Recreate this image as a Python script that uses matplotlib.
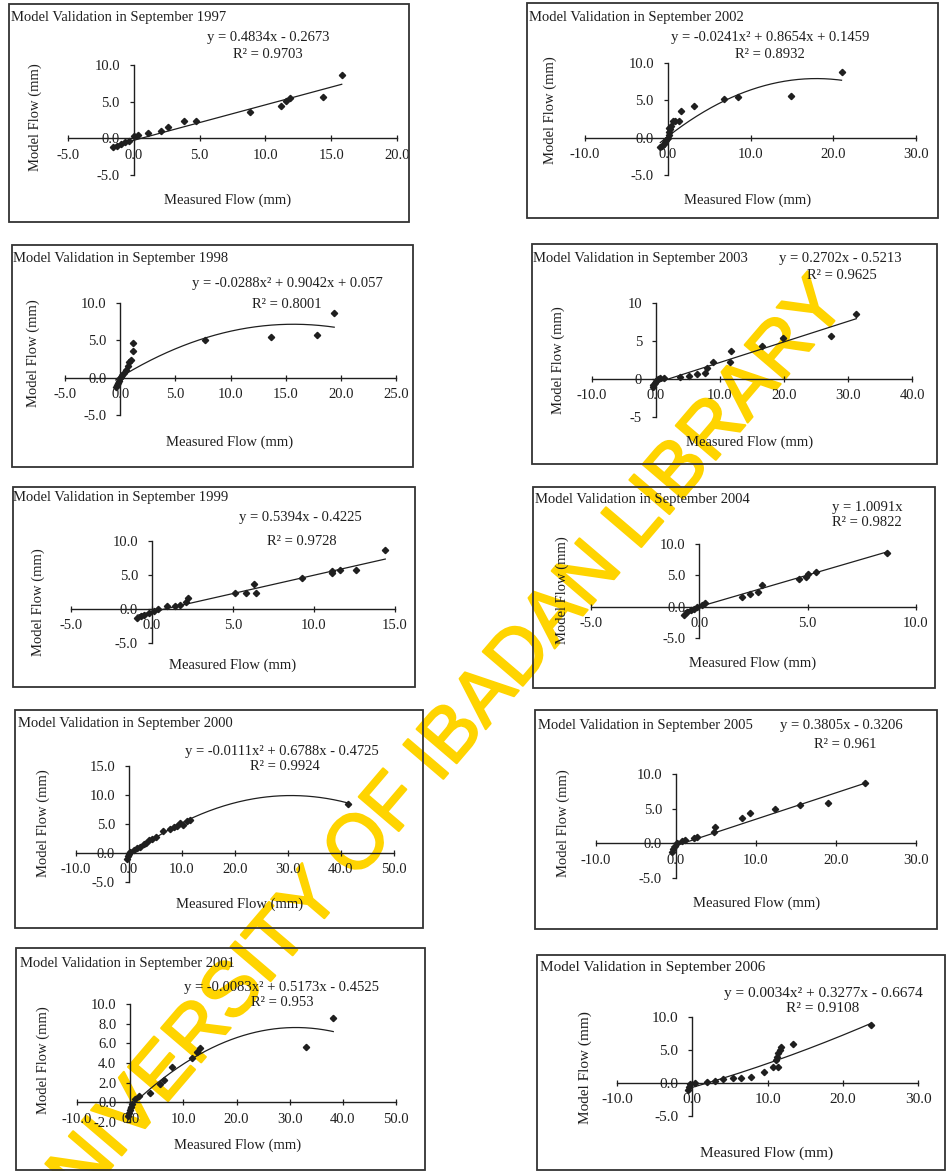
import numpy as np
import matplotlib
matplotlib.use("Agg")
import matplotlib.pyplot as plt
import matplotlib.patheffects as pe
from matplotlib.patches import Rectangle
from matplotlib.ticker import FormatStrFormatter, MultipleLocator

# ---------------- data ----------------
x_1997 = [15.8, 14.4, 11.9, 11.6, 11.2, 8.8, 4.7, 3.8, 2.6, 2.1, 1.1, 0.3, 0.05, -0.4, -0.7, -1.0, -1.3, -1.6]
y_1997 = [8.6, 5.6, 5.45, 5.1, 4.4, 3.6, 2.4, 2.3, 1.6, 1.0, 0.7, 0.45, 0.3, -0.3, -0.5, -0.8, -1.0, -1.2]
fit_1997 = [0.4834, -0.2673]

x_1998 = [19.4, 17.8, 13.7, 7.7, 1.2, 1.2, 1.0, 0.8, 0.7, 0.5, 0.35, 0.2, 0.1, 0.0, -0.1, -0.2, -0.3, -0.4]
y_1998 = [8.6, 5.7, 5.5, 5.1, 4.6, 3.6, 2.4, 2.1, 1.6, 1.0, 0.6, 0.3, 0.1, -0.1, -0.4, -0.7, -1.0, -1.3]
fit_1998 = [-0.0288, 0.9042, 0.057]

x_1999 = [14.4, 12.6, 11.6, 11.1, 11.1, 9.25, 6.4, 6.3, 5.8, 5.1, 2.2, 2.1, 1.75, 1.4, 0.9, 0.4, 0.1, -0.2, -0.5, -0.7, -0.9]
y_1999 = [8.7, 5.7, 5.8, 5.35, 5.6, 4.5, 2.3, 3.7, 2.3, 2.3, 1.6, 1.1, 0.6, 0.5, 0.4, 0.0, -0.3, -0.6, -0.85, -1.1, -1.3]
fit_1999 = [0.5394, -0.4225]

x_2000 = [41.4, 11.5, 10.9, 10.2, 9.7, 9.0, 8.4, 7.8, 6.4, 5.0, 4.3, 3.7, 3.2, 2.8, 2.1, 1.5, 0.9, 0.25, -0.06, -0.25, -0.4]
y_2000 = [8.4, 5.65, 5.5, 4.9, 5.1, 4.6, 4.5, 4.2, 3.8, 2.8, 2.5, 2.3, 1.8, 1.5, 1.0, 0.8, 0.5, 0.2, -0.25, -0.6, -1.0]
fit_2000 = [-0.0111, 0.6788, -0.4725]

x_2001 = [38.2, 33.1, 13.2, 12.5, 11.6, 7.8, 6.3, 5.7, 3.8, 1.6, 0.95, 0.35, 0.1, -0.1, -0.3, -0.35]
y_2001 = [8.55, 5.66, 5.5, 5.15, 4.5, 3.6, 2.3, 1.85, 0.9, 0.6, 0.3, -0.15, -0.45, -0.8, -1.1, -1.4]
fit_2001 = [-0.0083, 0.5173, -0.4525]

x_2002 = [21.0, 14.9, 8.5, 6.8, 3.2, 1.6, 1.4, 0.9, 0.6, 0.35, 0.3, 0.2, 0.15, 0.1, 0.0, -0.2, -0.3, -0.5, -0.7, -0.9]
y_2002 = [8.75, 5.55, 5.45, 5.2, 4.3, 3.55, 2.2, 2.2, 2.2, 1.5, 1.2, 0.8, 1.3, 0.4, 0.0, -0.3, -0.6, -0.9, -1.1, -1.3]
fit_2002 = [-0.0241, 0.8654, 0.1459]

x_2003 = [31.3, 27.4, 19.9, 16.6, 11.7, 11.6, 8.9, 7.9, 7.6, 6.4, 5.1, 3.8, 1.2, 0.65, 0.3, 0.0, -0.2, -0.4, -0.5]
y_2003 = [8.6, 5.6, 5.4, 4.4, 3.7, 2.3, 2.2, 1.5, 0.75, 0.65, 0.45, 0.3, 0.15, 0.1, 0.0, -0.2, -0.5, -1.1, -0.8]
fit_2003 = [0.2702, -0.5213]

x_2004 = [8.65, 5.4, 5.0, 4.9, 4.6, 2.9, 2.7, 2.35, 1.95, 0.28, 0.12, -0.1, -0.25, -0.4, -0.57, -0.72]
y_2004 = [8.56, 5.6, 5.2, 4.8, 4.4, 3.5, 2.3, 2.0, 1.5, 0.6, 0.3, -0.1, -0.35, -0.6, -0.9, -1.3]
fit_2004 = [1.0091, 0.0]

x_2005 = [23.6, 19.0, 15.5, 12.4, 9.3, 8.2, 4.9, 4.7, 2.6, 2.2, 1.1, 0.7, 0.1, -0.1, -0.35, -0.55]
y_2005 = [8.75, 5.75, 5.5, 5.0, 4.4, 3.6, 2.4, 1.65, 0.95, 0.7, 0.55, 0.35, 0.0, -0.4, -0.75, -1.25]
fit_2005 = [0.3805, -0.3206]

x_2006 = [23.8, 13.4, 11.8, 11.6, 11.4, 11.2, 11.1, 11.4, 10.7, 9.6, 7.8, 6.5, 5.4, 4.1, 3.0, 1.9, 0.3, -0.25, -0.45, -0.6]
y_2006 = [8.8, 5.9, 5.5, 5.05, 4.5, 3.9, 3.5, 2.4, 2.4, 1.6, 0.95, 0.8, 0.7, 0.55, 0.35, 0.2, 0.05, -0.15, -0.6, -1.1]
fit_2006 = [0.0034, 0.3277, -0.6674]

equations = {
    "1997": ("y = 0.4834x - 0.2673", "R\u00b2 = 0.9703"),
    "1998": ("y = -0.0288x\u00b2 + 0.9042x + 0.057", "R\u00b2 = 0.8001"),
    "1999": ("y = 0.5394x - 0.4225", "R\u00b2 = 0.9728"),
    "2000": ("y = -0.0111x\u00b2 + 0.6788x - 0.4725", "R\u00b2 = 0.9924"),
    "2001": ("y = -0.0083x\u00b2 + 0.5173x - 0.4525", "R\u00b2 = 0.953"),
    "2002": ("y = -0.0241x\u00b2 + 0.8654x + 0.1459", "R\u00b2 = 0.8932"),
    "2003": ("y = 0.2702x - 0.5213", "R\u00b2 = 0.9625"),
    "2004": ("y = 1.0091x", "R\u00b2 = 0.9822"),
    "2005": ("y = 0.3805x - 0.3206", "R\u00b2 = 0.961"),
    "2006": ("y = 0.0034x\u00b2 + 0.3277x - 0.6674", "R\u00b2 = 0.9108"),
}
title_text = "Model Validation in September {}"
xlabel_text = "Measured Flow (mm)"
ylabel_text = "Model Flow (mm)"
watermark_text = "UNIVERSITY OF IBADAN LIBRARY"

panels = {
    "1997": dict(x=x_1997, y=y_1997, fit=fit_1997, xlim=(-5, 20), ylim=(-5, 10), xstep=5, ystep=5, yfmt="%.1f"),
    "1998": dict(x=x_1998, y=y_1998, fit=fit_1998, xlim=(-5, 25), ylim=(-5, 10), xstep=5, ystep=5, yfmt="%.1f"),
    "1999": dict(x=x_1999, y=y_1999, fit=fit_1999, xlim=(-5, 15), ylim=(-5, 10), xstep=5, ystep=5, yfmt="%.1f"),
    "2000": dict(x=x_2000, y=y_2000, fit=fit_2000, xlim=(-10, 50), ylim=(-5, 15), xstep=10, ystep=5, yfmt="%.1f"),
    "2001": dict(x=x_2001, y=y_2001, fit=fit_2001, xlim=(-10, 50), ylim=(-2, 10), xstep=10, ystep=2, yfmt="%.1f"),
    "2002": dict(x=x_2002, y=y_2002, fit=fit_2002, xlim=(-10, 30), ylim=(-5, 10), xstep=10, ystep=5, yfmt="%.1f"),
    "2003": dict(x=x_2003, y=y_2003, fit=fit_2003, xlim=(-10, 40), ylim=(-5, 10), xstep=10, ystep=5, yfmt="%d"),
    "2004": dict(x=x_2004, y=y_2004, fit=fit_2004, xlim=(-5, 10), ylim=(-5, 10), xstep=5, ystep=5, yfmt="%.1f"),
    "2005": dict(x=x_2005, y=y_2005, fit=fit_2005, xlim=(-10, 30), ylim=(-5, 10), xstep=10, ystep=5, yfmt="%.1f"),
    "2006": dict(x=x_2006, y=y_2006, fit=fit_2006, xlim=(-10, 30), ylim=(-5, 10), xstep=10, ystep=5, yfmt="%.1f"),
}

# ---------------- layout (pixel coordinates in the 946x1171 image) ----------------
W, H = 946, 1171
layout = {
    "1997": dict(box=(9, 4, 409, 222), ax=(68, 65, 397, 175), title=(11, 17), eq=(268, 37), r2=(268, 55), ylab=(35, 117), xlab=(228, 200), fs=10.5),
    "2002": dict(box=(527, 3, 938, 218), ax=(585, 63, 916, 175), title=(529, 17), eq=(770, 38), r2=(770, 55), ylab=(550, 110), xlab=(748, 200), fs=10.5),
    "1998": dict(box=(12, 245, 413, 467), ax=(65, 303, 396, 415), title=(13, 258), eq=(287, 283), r2=(287, 305), ylab=(33, 353), xlab=(230, 442), fs=10.5),
    "2003": dict(box=(532, 244, 937, 464), ax=(592, 303, 912, 417), title=(533, 258), eq=(840, 258), r2=(842, 275), ylab=(558, 360), xlab=(750, 442), fs=10.5),
    "1999": dict(box=(13, 487, 415, 687), ax=(71, 541, 395, 643), title=(13, 498), eq=(300, 517), r2=(302, 542), ylab=(38, 602), xlab=(233, 665), fs=10.5),
    "2004": dict(box=(533, 487, 935, 688), ax=(591, 544, 916, 638), title=(535, 500), eq=(867, 507), r2=(867, 523), ylab=(562, 590), xlab=(753, 663), fs=10.5),
    "2000": dict(box=(15, 710, 423, 928), ax=(76, 766, 394, 882), title=(18, 723), eq=(282, 752), r2=(285, 767), ylab=(43, 823), xlab=(240, 904), fs=10.5),
    "2005": dict(box=(535, 710, 937, 929), ax=(596, 774, 916, 878), title=(538, 726), eq=(841, 725), r2=(845, 745), ylab=(563, 823), xlab=(757, 903), fs=10.5),
    "2001": dict(box=(16, 948, 425, 1170), ax=(77, 1004, 396, 1122), title=(20, 963), eq=(282, 987), r2=(282, 1002), ylab=(43, 1060), xlab=(238, 1145), fs=10.5),
    "2006": dict(box=(537, 955, 945, 1170), ax=(617, 1017, 918, 1116), title=(540, 968), eq=(823, 993), r2=(823, 1008), ylab=(585, 1068), xlab=(767, 1153), fs=11),
}

INK = "#1f1f1f"
SERIF = ["Liberation Serif", "DejaVu Serif"]
WM_COLOR = "#FFD400"

plt.rcParams["font.family"] = SERIF
fig = plt.figure(figsize=(W / 100, H / 100), dpi=100)
fig.patch.set_facecolor("white")


def fx(x):
    return x / W


def fy(y):
    return 1 - y / H


# watermark behind everything (the charts are transparent)
fig.text(fx(432), fy(762), watermark_text, rotation=49.5, rotation_mode="anchor",
         ha="center", va="center", fontsize=55, color=WM_COLOR,
         family=["Liberation Sans", "DejaVu Sans"], zorder=-5,
         path_effects=[pe.withStroke(linewidth=1.6, foreground=WM_COLOR)])

for year, p in panels.items():
    L = layout[year]
    FS = L["fs"]
    bl, bt, br, bb = L["box"]
    fig.add_artist(Rectangle((fx(bl), fy(bb)), (br - bl) / W, (bb - bt) / H,
                             transform=fig.transFigure, fill=False, ec="#333333", lw=1.3, zorder=1))
    al, at, ar, ab = L["ax"]
    ax = fig.add_axes([fx(al), fy(ab), (ar - al) / W, (ab - at) / H])
    ax.set_facecolor("none")
    ax.set_xlim(*p["xlim"])
    ax.set_ylim(*p["ylim"])
    for s in ("top", "right"):
        ax.spines[s].set_visible(False)
    for s in ("left", "bottom"):
        ax.spines[s].set_position(("data", 0))
        ax.spines[s].set_color(INK)
        ax.spines[s].set_linewidth(1.0)
    ax.xaxis.set_major_locator(MultipleLocator(p["xstep"]))
    ax.yaxis.set_major_locator(MultipleLocator(p["ystep"]))
    ax.xaxis.set_major_formatter(FormatStrFormatter("%.1f"))
    ax.yaxis.set_major_formatter(FormatStrFormatter(p["yfmt"]))
    ax.tick_params(axis="x", direction="inout", length=5, width=0.9, pad=5, labelsize=FS, colors=INK)
    ax.tick_params(axis="y", direction="out", length=3, width=0.9, pad=7, labelsize=FS, colors=INK)

    xs = np.linspace(min(p["x"]), max(p["x"]), 300)
    ax.plot(xs, np.polyval(p["fit"], xs), color=INK, lw=0.9, zorder=3)
    ax.plot(p["x"], p["y"], linestyle="none", marker="D", ms=3.2, color=INK, zorder=4, clip_on=False)

    eq, r2 = equations[year]
    fig.text(fx(L["title"][0]), fy(L["title"][1]), title_text.format(year), ha="left", va="center",
             fontsize=FS, color=INK)
    fig.text(fx(L["eq"][0]), fy(L["eq"][1]), eq, ha="center", va="center", fontsize=FS, color=INK)
    fig.text(fx(L["r2"][0]), fy(L["r2"][1]), r2, ha="center", va="center", fontsize=FS, color=INK)
    fig.text(fx(L["ylab"][0]), fy(L["ylab"][1]), ylabel_text, rotation=90, ha="center", va="center",
             fontsize=FS, color=INK)
    fig.text(fx(L["xlab"][0]), fy(L["xlab"][1]), xlabel_text, ha="center", va="center", fontsize=FS, color=INK)

fig.savefig("out.png", dpi=100, facecolor="white")
